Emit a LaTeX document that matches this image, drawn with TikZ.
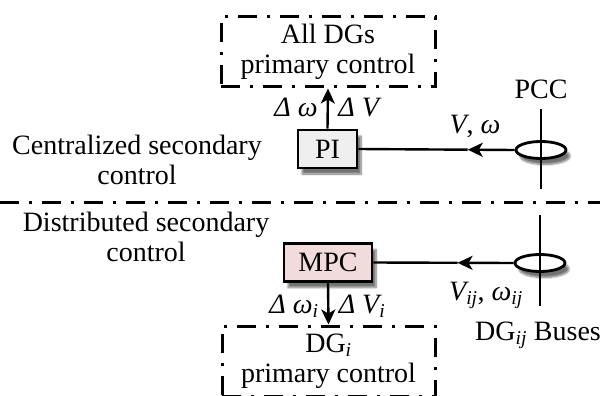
\documentclass[tikz,border=0pt]{standalone}
\usepackage{fontspec}
\setmainfont{Liberation Serif}
\usetikzlibrary{shapes.geometric,shadows.blur,arrows.meta,calc}
\definecolor{pigrey}{HTML}{EFEFEF}
\definecolor{mpcpink}{HTML}{F2DCDB}
\begin{document}
\begin{tikzpicture}[x=1pt,y=-1pt,
  every node/.style={font=\fontsize{28}{30}\selectfont},
  dashdot/.style={draw,line width=3pt,dash pattern=on 19pt off 10pt on 3pt off 10pt},
  ctrlbox/.style={draw,line width=2.8pt,minimum height=38pt,inner sep=0pt,
    blur shadow={shadow xshift=4pt,shadow yshift=-6pt,shadow blur steps=8,shadow opacity=55}},
  bus/.style={draw,fill=white,ellipse,line width=2.8pt,minimum width=50pt,minimum height=17pt,inner sep=0pt,
    blur shadow={shadow xshift=4pt,shadow yshift=-6pt,shadow blur steps=8,shadow opacity=55}},
  conn/.style={line width=2.4pt},
  tip/.style={-{Stealth[length=15pt,width=14pt,inset=4pt]}},
  lbl/.style={inner sep=0pt,anchor=base}
]
\useasboundingbox (0,0) rectangle (600,396);

% section labels and divider
\node[align=center,inner sep=0pt] (cen) at (137,160) {Centralized secondary\\control};
\node[align=center,inner sep=0pt] (dis) at (146,237) {Distributed secondary\\control};
\coordinate (sepL) at (0,202);
\coordinate (sepR) at (600,202);
\draw[dashdot] (sepL) -- (sepR);

% primary-control boxes
\node[dashdot,minimum width=214pt,minimum height=70pt,align=center,inner sep=0pt] (allprim) at (328,52) {All DGs\\primary control};
\node[dashdot,minimum width=213pt,minimum height=70pt,align=center,inner sep=0pt] (dgprim) at (328.5,361) {DG\textsubscript{\textit{i}}\\primary control};

% controllers
\node[ctrlbox,fill=pigrey,minimum width=59pt] (pi) at (327.5,149) {PI};
\node[ctrlbox,fill=mpcpink,minimum width=88pt] (mpc) at (328,262.5) {MPC};

% measurement points
\node[bus] (pcc) at (541,150) {};
\node[bus] (dgbus) at (540,263) {};
\coordinate (pccT) at (541,109);
\coordinate (pccB) at (541,189);
\coordinate (dgT) at (540,215);
\coordinate (dgB) at (540,306);
\draw[conn] (pccT) -- (pccB);
\draw[conn] (dgT) -- (dgB);
\node[lbl] (pcclbl) at (541,99) {PCC};
\node[lbl] (buslbl) at (538,340) {DG\textsubscript{\textit{ij}} Buses};

% signal paths (arrow head part-way along the feedback lines)
\coordinate (pccmid) at ($(pcc.west)!0.3!(pi.east)$);
\coordinate (busmid) at ($(dgbus.west)!0.4!(mpc.east)$);
\draw[conn,tip] (pcc.west) -- (pccmid);
\draw[conn] (pccmid) -- (pi.east);
\draw[conn,tip] (dgbus.west) -- (busmid);
\draw[conn] (busmid) -- (mpc.east);
\draw[conn,tip] (pi.north) -- (allprim.south);
\draw[conn,tip] (mpc.south) -- (dgprim.north);

% signal labels
\node[lbl] (dw) at (296,117) {\textit{Δ ω}};
\node[lbl] (dv) at (360,117) {\textit{Δ V}};
\node[lbl] (vw) at (475,133) {\textit{V}, \textit{ω}};
\node[lbl] (dwi) at (294,313) {\textit{Δ ω\textsubscript{i}}};
\node[lbl] (dvi) at (362,313) {\textit{Δ V\textsubscript{i}}};
\node[lbl] (vwij) at (486,300) {\textit{V\textsubscript{ij}}, \textit{ω\textsubscript{ij}}};
\end{tikzpicture}
\end{document}
